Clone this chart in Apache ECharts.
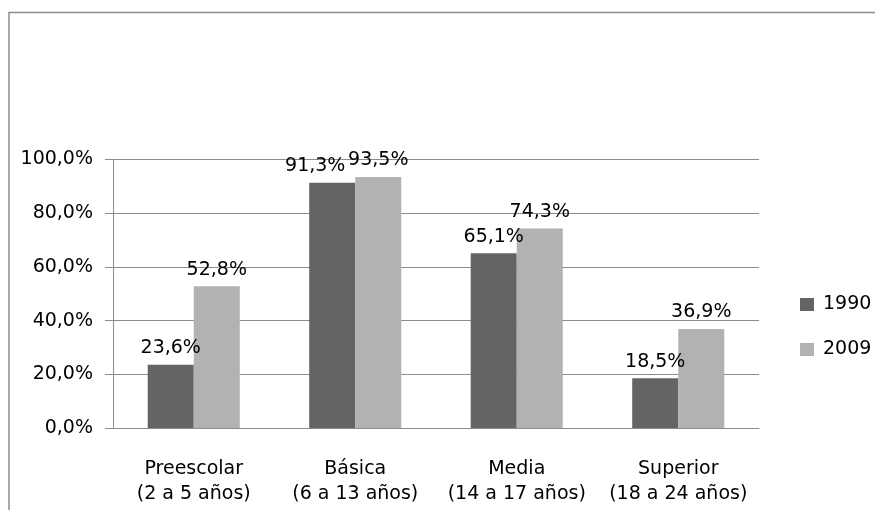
<!DOCTYPE html>
<html><head><meta charset="utf-8">
<script src="https://cdn.jsdelivr.net/npm/echarts@6/dist/echarts.min.js"></script>
<style>html,body{margin:0;padding:0;background:#fff}#c{width:875px;height:510px}</style>
</head><body><div id="c"></div>
<script>
const categories = ['Preescolar\n(2 a 5 años)', 'Básica\n(6 a 13 años)', 'Media\n(14 a 17 años)', 'Superior\n(18 a 24 años)'];
const series1990 = [23.6, 91.3, 65.1, 18.5];
const series2009 = [52.8, 93.5, 74.3, 36.9];
const seriesNames = ['1990', '2009'];
const yTicks = [0, 20, 40, 60, 80, 100];

const font = '"DejaVu Sans", sans-serif';
const fmt = v => v.toFixed(1).replace('.', ',') + '%';
const labelStyle = {show: true, position: 'top', distance: 7, fontSize: 19, color: '#000', fontFamily: font, formatter: p => fmt(p.value)};
// Excel nudged the Básica 1990 label left to avoid overlapping its neighbour
const data1990 = series1990.map((v, i) => i === 1 ? {value: v, label: {offset: [-17, 0]}} : v);

const chart = echarts.init(document.getElementById('c'), null, {renderer: 'canvas'});
chart.setOption({
  animation: false,
  textStyle: {fontFamily: font},
  grid: {left: 113, right: 116, top: 159.5, bottom: 82, containLabel: false},
  legend: {
    orient: 'vertical', left: 800, top: 294.5, itemWidth: 14, itemHeight: 13, itemGap: 25,
    padding: 0, icon: 'rect',
    textStyle: {fontSize: 19, lineHeight: 20, color: '#000', fontFamily: font, padding: [0, 0, 0, 4]},
    data: seriesNames
  },
  xAxis: {
    type: 'category', data: categories,
    axisLine: {lineStyle: {color: '#8c8c8c'}},
    axisTick: {length: 6, lineStyle: {color: '#8c8c8c'}},
    axisLabel: {interval: 0, fontSize: 19, color: '#000', margin: 29, lineHeight: 25, fontFamily: font}
  },
  yAxis: {
    type: 'value', min: yTicks[0], max: yTicks[yTicks.length - 1], interval: 20,
    axisLine: {show: true, lineStyle: {color: '#8c8c8c'}},
    axisTick: {show: true, length: 8, lineStyle: {color: '#8c8c8c'}},
    splitLine: {lineStyle: {color: '#8c8c8c'}},
    axisLabel: {fontSize: 19, color: '#000', margin: 20, fontFamily: font, formatter: v => fmt(v)}
  },
  series: [
    {name: seriesNames[0], type: 'bar', data: data1990, barGap: '0%', barCategoryGap: '43%',
     itemStyle: {color: '#646464'}, label: labelStyle},
    {name: seriesNames[1], type: 'bar', data: series2009, barGap: '0%', barCategoryGap: '43%',
     itemStyle: {color: '#b2b2b2'}, label: labelStyle}
  ],
  graphic: [
    {type: 'rect', shape: {x: 9, y: 12.5, width: 900, height: 600}, style: {fill: 'none', stroke: '#8c8c8c', lineWidth: 1.5}, silent: true}
  ]
});
</script></body></html>
